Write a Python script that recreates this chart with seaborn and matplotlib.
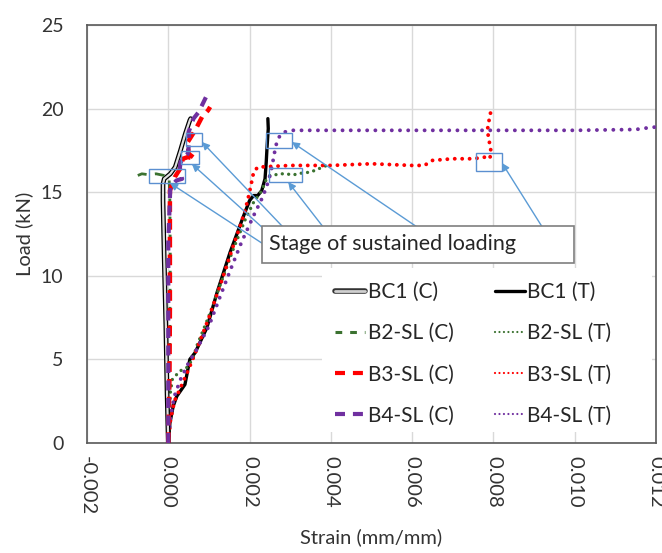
import numpy as np
import pandas as pd
import matplotlib
matplotlib.use("Agg")
import matplotlib.pyplot as plt
import seaborn as sns
from matplotlib.lines import Line2D
from matplotlib.patches import Rectangle
import matplotlib.patheffects as pe

sns.set_theme(style="white")
plt.rcParams["font.family"] = ["Lato", "DejaVu Sans"]

# ---------------- data (strain mm/mm, load kN) ----------------
bc1_c_strain = [0, -0.00003, -0.00006, -0.0001, -0.00013, -0.00013, -0.0001, 0.00005, 0.00017, 0.0003, 0.00042, 0.00053, 0.00055]
bc1_c_load = [0, 3, 7, 11, 14.5, 15.5, 15.8, 16.1, 16.5, 17.5, 18.5, 19.3, 19.4]

b2_c_strain = [0, 0.00002, 0.00004, 0.00005, 0.00004, 0.00002, -0.0001, -0.0003, -0.0005, -0.00065, -0.00075]
b2_c_load = [0, 3, 7, 11, 14.5, 15.9, 16.0, 16.1, 16.05, 16.1, 16.0]

b3_c_strain = [0, 0.00003, 0.00004, 0.00004, 0.00004, 0.00016, 0.00029, 0.00036, 0.00048, 0.00066, 0.00050, 0.00048, 0.00066, 0.00083, 0.00098, 0.00103]
b3_c_load = [0, 4, 8, 12, 15.1, 15.9, 16.4, 17.0, 17.1, 17.0, 17.3, 18.0, 18.7, 19.5, 19.9, 20.1]

b4_c_strain = [0, 0, 0, 0, 0.00005, 0.0002, 0.00034, 0.00028, 0.0003, 0.00048, 0.00052, 0.0005, 0.00062, 0.00075, 0.00085, 0.00093, 0.00095]
b4_c_load = [0, 4, 8, 12, 15.3, 15.7, 15.8, 16.3, 16.8, 17.3, 18.1, 18.6, 19.4, 19.8, 20.3, 20.7, 20.5]

bc1_t_strain = [0, 0.00004, 0.00012, 0.00021, 0.00041, 0.00053, 0.00066, 0.00095, 0.0012, 0.00152, 0.00184, 0.002, 0.0021, 0.0022, 0.0023, 0.00238, 0.00241, 0.00243, 0.00246, 0.00245]
bc1_t_load = [0, 1.2, 2.2, 2.8, 3.5, 5.0, 5.4, 6.9, 9.0, 11.4, 13.5, 14.5, 14.8, 14.8, 15.1, 15.8, 16.8, 17.7, 18.8, 19.4]

b2_t_strain = [0, 0.00003, 0.00005, 0.0001, 0.00028, 0.00045, 0.0006, 0.0007, 0.001, 0.0013, 0.0016, 0.0019, 0.0021, 0.0023, 0.0024, 0.0025, 0.0028, 0.0031, 0.0033, 0.0035, 0.0037, 0.0039]
b2_t_load = [0, 1.5, 3.0, 3.8, 4.3, 4.5, 5.0, 5.8, 7.6, 9.6, 11.6, 13.4, 14.4, 15.1, 15.7, 16.0, 16.1, 16.05, 16.15, 16.2, 16.4, 16.6]

b3_t_strain = [0, 0.00005, 0.00015, 0.0003, 0.0005, 0.0007, 0.001, 0.0013, 0.0016, 0.0018, 0.0019, 0.00198, 0.00205, 0.0021, 0.0022, 0.003, 0.004, 0.005, 0.006, 0.0063, 0.0065, 0.007, 0.0075, 0.0078, 0.0079, 0.00795, 0.0079, 0.00785, 0.0079, 0.00795]
b3_t_load = [0, 1.3, 2.5, 3.3, 4.4, 5.6, 7.5, 9.6, 11.8, 13.2, 14.0, 14.8, 15.6, 16.2, 16.5, 16.6, 16.6, 16.7, 16.6, 16.6, 16.9, 17.0, 17.0, 17.1, 17.0, 17.3, 18.0, 18.7, 19.4, 20.0]

b4_t_strain = [0, 0.00005, 0.00015, 0.0003, 0.0005, 0.0007, 0.001, 0.00125, 0.00152, 0.0018, 0.0021, 0.0023, 0.0024, 0.00248, 0.00255, 0.0026, 0.00265, 0.0027, 0.0028, 0.0030, 0.004, 0.006, 0.008, 0.010, 0.0115, 0.0118, 0.012]
b4_t_load = [0, 1.5, 2.8, 3.8, 4.8, 5.6, 7.0, 8.6, 10.3, 12.0, 13.6, 14.6, 15.2, 15.8, 16.5, 17.2, 17.8, 18.2, 18.55, 18.7, 18.7, 18.7, 18.7, 18.7, 18.75, 18.85, 18.9]

x_ticks = [-0.002, 0.000, 0.002, 0.004, 0.006, 0.008, 0.010, 0.012]
x_tick_labels = ["-0.002", "0.000", "0.002", "0.004", "0.006", "0.008", "0.010", "0.012"]
y_ticks = [0, 5, 10, 15, 20, 25]

# sustained-loading markers (x0, x1, y0, y1) and arrow tips
stage_boxes = [
    (-0.000475, 0.000411, 15.55, 16.39),
    (0.000313, 0.000756, 16.69, 17.46),
    (0.000436, 0.000829, 17.76, 18.54),
    (0.002404, 0.003044, 17.64, 18.54),
    (0.002478, 0.003290, 15.61, 16.45),
    (0.007571, 0.008211, 16.27, 17.34),
]
arrow_tips = [(0.00004, 15.55), (0.00058, 16.69), (0.00083, 18.0),
              (0.00304, 18.0), (0.00295, 15.61), (0.00821, 16.75)]
arrow_starts = [(0.0023, 11.96), (0.0023, 12.92), (0.00282, 12.92),
                (0.00612, 12.92), (0.00381, 12.92), (0.00920, 12.92)]

GREEN = "#3B7230"
RED = "#FF0000"
PURPLE = "#7030A0"

fig = plt.figure(figsize=(6.62, 5.53), dpi=100)
ax = fig.add_axes([87 / 662, 1 - 443 / 553, 569 / 662, 418 / 553])


def draw(xs, ys, color, lw, ls, z=2, cap="butt"):
    df = pd.DataFrame({"strain": xs, "load": ys})
    sns.lineplot(data=df, x="strain", y="load", ax=ax, sort=False,
                 estimator=None, color=color, lw=lw)
    ln = ax.lines[-1]
    ln.set_linestyle(ls)
    ln.set_dash_capstyle(cap)
    ln.set_zorder(z)
    return ln


# tension curves
draw(bc1_t_strain, bc1_t_load, "black", 2.4, "-", z=3)
draw(b2_t_strain, b2_t_load, GREEN, 2.4, (0, (0.01, 1.9)), z=3, cap="round")
draw(b3_t_strain, b3_t_load, RED, 2.8, (0, (0.01, 1.9)), z=3, cap="round")
draw(b4_t_strain, b4_t_load, PURPLE, 2.8, (0, (0.01, 2.1)), z=3, cap="round")
# compression curves
l = draw(bc1_c_strain, bc1_c_load, "#e0e0e0", 1.6, "-", z=4)
l.set_path_effects([pe.withStroke(linewidth=3.4, foreground="black")])
draw(b2_c_strain, b2_c_load, GREEN, 2.0, (0, (3.5, 3)), z=4)
draw(b3_c_strain, b3_c_load, RED, 3.2, (0, (2.4, 1.6)), z=4)
draw(b4_c_strain, b4_c_load, PURPLE, 3.0, (0, (2.4, 1.8)), z=5)

ax.set_xlim(-0.002, 0.012)
ax.set_ylim(0, 25)
ax.set_xticks(x_ticks)
ax.set_xticklabels(x_tick_labels, rotation=-90)
ax.set_yticks(y_ticks)
ax.grid(True, color="#d9d9d9", lw=1)
ax.set_axisbelow(True)
for s in ax.spines.values():
    s.set_color("#595959")
    s.set_linewidth(1.2)
ax.tick_params(axis="both", length=0, colors="#333333")
ax.tick_params(axis="y", pad=17, labelsize=14)
ax.tick_params(axis="x", pad=9, labelsize=14.5)
ax.set_xlabel("Strain (mm/mm)", fontsize=14.5, color="#333333")
ax.set_ylabel("Load (kN)", fontsize=14.5, color="#333333")
ax.xaxis.set_label_coords(0.5, -0.205)
ax.yaxis.set_label_coords(-0.095, 0.5)

# stage boxes and arrows
for (x0, x1, y0, y1) in stage_boxes:
    ax.add_patch(Rectangle((x0, y0), x1 - x0, y1 - y0, fill=False,
                           ec="#5B8FD0", lw=1.0, zorder=6))
for (sx, sy), (tx, ty) in zip(arrow_starts, arrow_tips):
    ax.annotate("", xy=(tx, ty), xytext=(sx, sy),
                arrowprops=dict(arrowstyle="-|>", color="#5B9BD5", lw=1.0,
                                shrinkA=0, shrinkB=0, mutation_scale=11),
                zorder=6)
# text box
tb_x0, tb_x1, tb_y0, tb_y1 = 0.0023, 0.00998, 10.77, 12.98
ax.add_patch(Rectangle((tb_x0, tb_y0), tb_x1 - tb_x0, tb_y1 - tb_y0,
                       fc="white", ec="#7f7f7f", lw=1.2, zorder=7))
ax.text(tb_x0 + 0.00017, (tb_y0 + tb_y1) / 2, "Stage of sustained loading",
        fontsize=15.5, color="#262626", va="center", ha="left", zorder=8)

# legend background mask
ax.add_patch(Rectangle((0.413, 0.026), 0.58, 0.393, transform=ax.transAxes,
                       fc="white", ec="none", zorder=1))

dbl = Line2D([], [], color="#d0d0d0", lw=2.0)
dbl.set_path_effects([pe.withStroke(linewidth=4.0, foreground="#333333")])
handles = [
    dbl,
    Line2D([], [], color=GREEN, lw=2.2, ls=(0, (2.2, 2.6))),
    Line2D([], [], color=RED, lw=3.0, ls=(0, (2.4, 1.9))),
    Line2D([], [], color=PURPLE, lw=3.0, ls=(0, (2.4, 1.9))),
    Line2D([], [], color="black", lw=2.4),
    Line2D([], [], color=GREEN, lw=1.6, ls=(0, (0.01, 2.0)), dash_capstyle="round"),
    Line2D([], [], color=RED, lw=1.6, ls=(0, (0.01, 2.0)), dash_capstyle="round"),
    Line2D([], [], color=PURPLE, lw=1.6, ls=(0, (0.01, 2.0)), dash_capstyle="round"),
]
labels = ["BC1 (C)", "B2-SL (C)", "B3-SL (C)", "B4-SL (C)",
          "BC1 (T)", "B2-SL (T)", "B3-SL (T)", "B4-SL (T)"]
leg = ax.legend(handles, labels, ncol=2, loc="upper left",
                bbox_to_anchor=(0.418, 0.41), frameon=False,
                fontsize=15, handlelength=1.45, handletextpad=0.1,
                columnspacing=2.0, labelspacing=1.02, borderpad=0)
for t in leg.get_texts():
    t.set_color("#262626")

fig.savefig("out.png", dpi=100)
